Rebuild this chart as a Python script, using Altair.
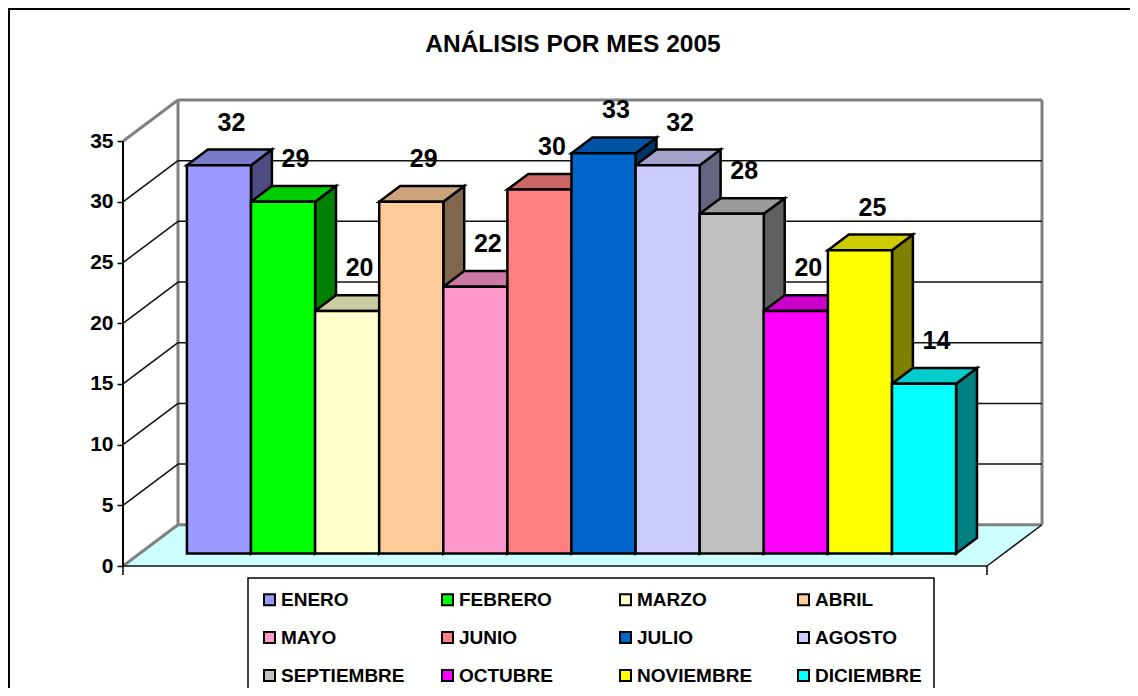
import altair as alt
import pandas as pd

# ---- data ----
months = ["ENERO", "FEBRERO", "MARZO", "ABRIL", "MAYO", "JUNIO", "JULIO",
          "AGOSTO", "SEPTIEMBRE", "OCTUBRE", "NOVIEMBRE", "DICIEMBRE"]
values = [32, 29, 20, 29, 22, 30, 33, 32, 28, 20, 25, 14]
colors = ["#9999FF", "#00FF00", "#FFFFCC", "#FFCC99", "#FF99CC", "#FF8080",
          "#0066CC", "#CCCCFF", "#C0C0C0", "#FF00FF", "#FFFF00", "#00FFFF"]
y_ticks = [0, 5, 10, 15, 20, 25, 30, 35]
title_text = "ANÁLISIS POR MES 2005"

# ---- projection / layout constants ----
W, H = 920, 466
PAD_L, PAD_T, PAD_R, PAD_B = 115, 92, 87, 122
BAR_PX = 64.1
XMAX = W / BAR_PX
YMAX = 38.4
YTOP = 35
DX = 55 / BAR_PX          # depth offset in x units
DY = YMAX - YTOP          # depth offset in value units
FW = 864 / BAR_PX         # floor width
MARGIN = (FW - len(months)) / 2
Z0, Z1 = 0.30, 0.68
BDX = (Z1 - Z0) * DX
BDY = (Z1 - Z0) * DY
FONT = "Liberation Sans"


def shade(h, f):
    r, g, b = int(h[1:3], 16), int(h[3:5], 16), int(h[5:7], 16)
    return "#%02X%02X%02X" % (round(r * f), round(g * f), round(b * f))


front, side, top, labels = [], [], [], []
for i, (m, v, c) in enumerate(zip(months, values, colors)):
    x0 = MARGIN + i + Z0 * DX
    x1 = x0 + 1
    yb = Z0 * DY
    yt = v + Z0 * DY
    front.append(dict(mes=m, x=x0, x2=x1, y=yb, y2=yt))
    side.append(dict(mes=m, x=x1, y=yb, y2=yt, c=shade(c, 0.5)))
    side.append(dict(mes=m, x=x1 + BDX, y=yb + BDY, y2=yt + BDY, c=shade(c, 0.5)))
    top.append(dict(mes=m, y=yt, x=x0, x2=x1, c=shade(c, 0.8)))
    top.append(dict(mes=m, y=yt + BDY, x=x0 + BDX, x2=x1 + BDX, c=shade(c, 0.8)))
    labels.append(dict(mes=m, x=x0 + 0.5 + BDX / 2, y=yt + BDY, t=str(v)))

front_df = pd.DataFrame(front)
side_df = pd.DataFrame(side)
top_df = pd.DataFrame(top)
label_df = pd.DataFrame(labels)

grid_vals = y_ticks[1:-1]
wall_edges = pd.DataFrame([
    dict(x=DX, y=DY, x2=DX, y2=YMAX),
    dict(x=FW + DX, y=DY, x2=FW + DX, y2=YMAX),
    dict(x=DX, y=YMAX, x2=FW + DX, y2=YMAX),
    dict(x=DX, y=DY, x2=FW + DX, y2=DY),
    dict(x=0, y=YTOP, x2=DX, y2=YMAX),
    dict(x=0, y=0, x2=DX, y2=DY),
])
thin_lines = pd.DataFrame(
    [dict(x=DX, y=g + DY, x2=FW + DX, y2=g + DY) for g in grid_vals]
    + [dict(x=0, y=g, x2=DX, y2=g + DY) for g in grid_vals]
    + [dict(x=0, y=0, x2=FW, y2=0), dict(x=FW, y=0, x2=FW + DX, y2=DY)]
)
axis_line = pd.DataFrame([dict(x=0, y=0, x2=0, y2=YTOP)])
floor_df = pd.DataFrame([dict(y=0, x=0, x2=FW), dict(y=DY, x=DX, x2=FW + DX)])
end_ticks = pd.DataFrame([dict(x=0), dict(x=FW)])

XS = alt.Scale(domain=[0, XMAX], nice=False, zero=False)
YS = alt.Scale(domain=[0, YMAX], nice=False, zero=False)
YAX = alt.Axis(values=y_ticks, domain=False, grid=False, tickSize=6,
               tickColor="black", tickWidth=1.5, labelFont=FONT,
               labelFontSize=21, labelFontWeight="bold", labelColor="black",
               labelPadding=4, title=None)


def X(f="x"):
    return alt.X(f"{f}:Q", scale=XS, axis=None)


def Y(f="y"):
    return alt.Y(f"{f}:Q", scale=YS, axis=YAX)


floor = alt.Chart(floor_df).mark_area(orient="horizontal", color="#CCFFFF").encode(
    y=Y(), x=X(), x2="x2:Q")

walls = alt.Chart(wall_edges).mark_rule(color="#808080", strokeWidth=3).encode(
    x=X(), y=Y(), x2="x2:Q", y2="y2:Q")

thin = alt.Chart(thin_lines).mark_rule(color="#111111", strokeWidth=1.5).encode(
    x=X(), y=Y(), x2="x2:Q", y2="y2:Q")

yaxis_line = alt.Chart(axis_line).mark_rule(color="black", strokeWidth=2).encode(
    x=X(), y=Y(), x2="x2:Q", y2="y2:Q")

ticks = alt.Chart(end_ticks).mark_rule(color="black", strokeWidth=1.5).encode(
    x=X(), y=alt.value(H), y2=alt.value(H + 9))

sides = alt.Chart(side_df).mark_area(stroke="black", strokeWidth=2.5,
                                     strokeJoin="miter").encode(
    x=X(), y=Y(), y2="y2:Q", detail="mes:N",
    fill=alt.Fill("c:N", scale=None))

tops = alt.Chart(top_df).mark_area(orient="horizontal", stroke="black",
                                   strokeWidth=2.5, strokeJoin="miter").encode(
    y=Y(), x=X(), x2="x2:Q", detail="mes:N",
    fill=alt.Fill("c:N", scale=None))

fronts = alt.Chart(front_df).mark_rect(stroke="black", strokeWidth=2.5,
                                       strokeJoin="miter").encode(
    x=X(), x2="x2:Q", y=Y(), y2="y2:Q",
    color=alt.Color("mes:N", sort=months,
                    scale=alt.Scale(domain=months, range=colors),
                    legend=alt.Legend(orient="none", legendX=125, legendY=478,
                                      columns=4, direction="horizontal",
                                      title=None)))

texts = alt.Chart(label_df).mark_text(font=FONT, fontSize=25, fontWeight="bold",
                                      color="black", baseline="bottom",
                                      dy=-14, dx=2).encode(
    x=X(), y=Y(), text="t:N")

border_left = alt.Chart(end_ticks.head(1)).mark_rule(color="black", strokeWidth=2).encode(
    x=alt.value(-114), y=alt.value(-92), y2=alt.value(H + PAD_B))
border_top = alt.Chart(end_ticks.head(1)).mark_rule(color="black", strokeWidth=2).encode(
    x=alt.value(-115), x2=alt.value(W + PAD_R), y=alt.value(-91))

chart = alt.layer(
    floor, walls, thin, yaxis_line, ticks, sides, tops, fronts, texts,
    border_left, border_top,
).properties(
    width=W, height=H,
    title=alt.TitleParams(text=title_text, font=FONT, fontSize=24.5,
                          fontWeight="bold", color="black", anchor="middle",
                          offset=-50, dx=-10),
    padding={"left": PAD_L, "top": PAD_T, "right": PAD_R, "bottom": PAD_B},
    autosize=alt.AutoSizeParams(type="none"),
).configure_view(strokeWidth=0).configure_legend(
    symbolType="square", symbolSize=121, symbolStrokeColor="black",
    symbolStrokeWidth=2, labelFont=FONT, labelFontSize=19,
    labelFontWeight="bold", labelColor="black", labelOffset=2,
    columnPadding=33, rowPadding=18, padding=12, strokeColor="black",
    strokeWidth=1.5, fillColor="white", gridAlign="all", labelLimit=300,
    symbolOpacity=1,
)

chart.save("out.html", embed_options={"renderer": "svg", "actions": False})
